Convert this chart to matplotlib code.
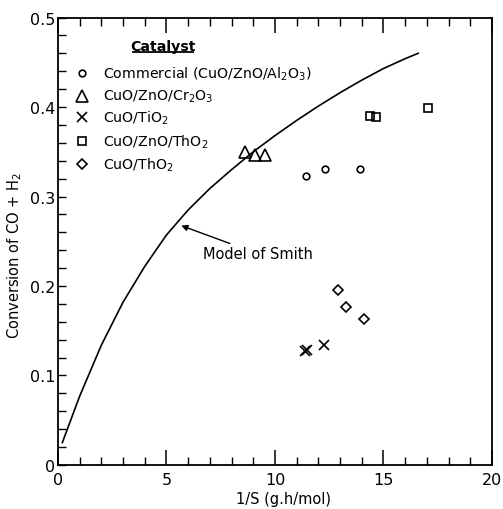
import matplotlib
matplotlib.use('Agg')
from matplotlib import pyplot as plt
from matplotlib.ticker import MultipleLocator

plt.rcParams['font.family'] = ['DejaVu Sans']
plt.rcParams['mathtext.default'] = 'regular'

# model of Smith curve
model_x = [0.2, 1.0, 2.0, 3.0, 4.0, 5.0, 6.0, 7.0, 8.0, 9.0, 10.0, 11.0, 12.0, 13.0, 14.0, 15.0, 16.0, 16.6]
model_y = [0.025, 0.077, 0.134, 0.182, 0.222, 0.257, 0.285, 0.309, 0.330, 0.350, 0.368, 0.385,
           0.401, 0.416, 0.430, 0.443, 0.454, 0.460]

# catalysts
comm_x = [11.43, 12.3, 13.9]
comm_y = [0.323, 0.331, 0.331]
cr_x = [8.62, 9.08, 9.54]
cr_y = [0.350, 0.346, 0.346]
ti_x = [11.40, 11.46, 12.26]
ti_y = [0.127, 0.129, 0.134]
th_zn_x = [14.38, 14.65, 17.05]
th_zn_y = [0.390, 0.389, 0.399]
th_x = [12.9, 13.27, 14.1]
th_y = [0.196, 0.177, 0.163]

labels = ['Commercial (CuO/ZnO/Al$_2$O$_3$)',
          'CuO/ZnO/Cr$_2$O$_3$',
          'CuO/TiO$_2$',
          'CuO/ZnO/ThO$_2$',
          'CuO/ThO$_2$']

fig = plt.figure(figsize=(5.03, 5.10), dpi=100)
ax = fig.add_axes([0.1153, 0.0863, 0.8627, 0.8774])

ax.plot(model_x, model_y, color='black', linewidth=1.2)

series = [(comm_x, comm_y, 'o', 4.8),
          (cr_x, cr_y, '^', 8),
          (ti_x, ti_y, 'x', 7),
          (th_zn_x, th_zn_y, 's', 6),
          (th_x, th_y, 'D', 5.5)]
for sx, sy, m, ms in series:
    ax.plot(sx, sy, linestyle='none', marker=m, markersize=ms,
            markerfacecolor='none', markeredgecolor='black', markeredgewidth=1.2)

# hand-made legend
rows = [0.876, 0.825, 0.778, 0.724, 0.673]
for (sx, sy, m, ms), lab, ry in zip(series, labels, rows):
    ax.plot([0.055], [ry], transform=ax.transAxes, linestyle='none', marker=m,
            markersize=ms, markerfacecolor='none', markeredgecolor='black',
            markeredgewidth=1.2, clip_on=False)
    ax.text(0.104, ry, lab, transform=ax.transAxes, va='center', ha='left', fontsize=10.2)
ax.text(0.242, 0.936, 'Catalyst', transform=ax.transAxes, ha='center', va='center',
        fontsize=10.2, fontweight='bold')
ax.plot([0.173, 0.311], [0.924, 0.924], transform=ax.transAxes, color='black', linewidth=1.3)

ax.annotate('Model of Smith', xy=(5.62, 0.268), xytext=(6.68, 0.236),
            va='center', ha='left', fontsize=10.5,
            arrowprops=dict(arrowstyle='-|>', color='black', lw=1.0,
                            shrinkA=0, shrinkB=1, mutation_scale=9))

ax.set_xlim(0, 20)
ax.set_ylim(0, 0.5)
ax.set_xticks([0, 5, 10, 15, 20])
ax.set_xticklabels(['0', '5', '10', '15', '20'])
ax.set_yticks([0, 0.1, 0.2, 0.3, 0.4, 0.5])
ax.set_yticklabels(['0', '0.1', '0.2', '0.3', '0.4', '0.5'])
ax.xaxis.set_minor_locator(MultipleLocator(1))
ax.yaxis.set_minor_locator(MultipleLocator(0.02))
ax.tick_params(axis='x', which='both', direction='in', top=True, labelsize=11.5, pad=5)
ax.tick_params(axis='x', which='major', length=11, width=1.1)
ax.tick_params(axis='x', which='minor', length=6, width=1)
ax.tick_params(axis='y', which='both', direction='in', right=False, labelsize=11.5, pad=2)
ax.tick_params(axis='y', which='major', length=6, width=1)
ax.tick_params(axis='y', which='minor', length=6, width=1)
for s in ax.spines.values():
    s.set_linewidth(1.3)

ax.set_xlabel('1/S (g.h/mol)', fontsize=10.5)
ax.xaxis.set_label_coords(0.52, -0.058)
ax.set_ylabel('Conversion of CO + H$_2$', fontsize=10.5)
ax.yaxis.set_label_coords(-0.078, 0.47)

fig.savefig('out.png', dpi=100)
